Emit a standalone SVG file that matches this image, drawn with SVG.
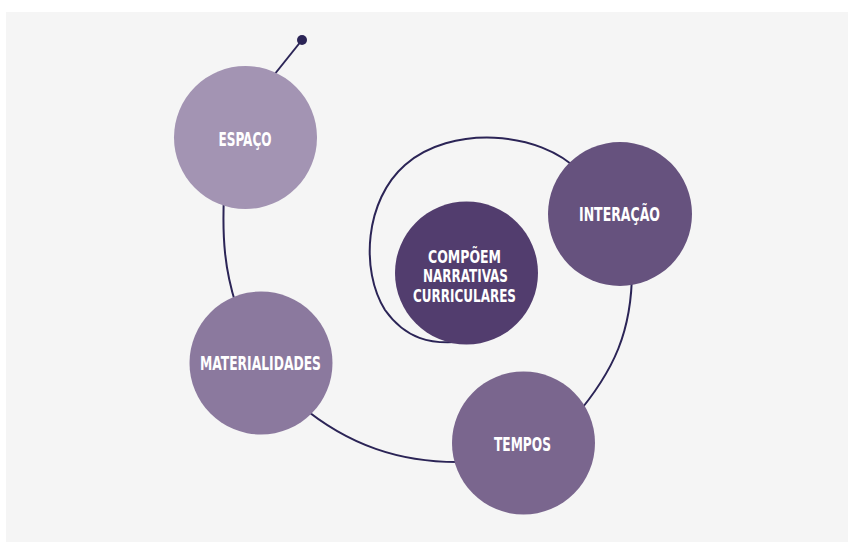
<svg xmlns="http://www.w3.org/2000/svg" width="848" height="542" viewBox="0 0 848 542">
<style>
.lbl{font-family:"DejaVu Sans Condensed","DejaVu Sans","Liberation Sans",sans-serif;font-stretch:condensed;font-weight:bold;font-size:19px;fill:#ffffff;text-anchor:middle}
.sm{font-size:17px}
.con{fill:none;stroke:#2b2456;stroke-width:2;stroke-linecap:round}
</style>
<rect x="0" y="0" width="848" height="542" fill="#ffffff"/>
<rect x="6" y="12" width="842" height="530" fill="#f5f5f5"/>
<g id="connectors">
<path class="con" d="M302,40 L262,90"/>
<circle cx="302" cy="40" r="5" fill="#2b2456"/>
<path class="con" d="M224,195 C222,240 225,270 236,305"/>
<path class="con" d="M300,405 C348,445 400,463 462,462"/>
<path class="con" d="M632,270 C632,330 615,370 574,418"/>
<path class="con" d="M580,172 C540,130 450,125 405,165 C365,200 360,270 385,310 C405,338 430,346 466,341"/>
</g>
<g id="espaco">
<circle cx="245.5" cy="137.5" r="71.5" fill="#a394b3"/>
<text class="lbl" x="245" y="146" textLength="53" lengthAdjust="spacingAndGlyphs">ESPAÇO</text>
</g>
<g id="materialidades">
<circle cx="261" cy="363" r="71.5" fill="#8b799e"/>
<text class="lbl" x="260.5" y="370" textLength="121" lengthAdjust="spacingAndGlyphs">MATERIALIDADES</text>
</g>
<g id="tempos">
<circle cx="523.5" cy="443" r="71.5" fill="#7a668e"/>
<text class="lbl" x="522.5" y="451" textLength="57" lengthAdjust="spacingAndGlyphs">TEMPOS</text>
</g>
<g id="interacao">
<circle cx="620" cy="214" r="72" fill="#66527e"/>
<text class="lbl" x="619.5" y="221" textLength="81" lengthAdjust="spacingAndGlyphs">INTERAÇÃO</text>
</g>
<g id="compoem">
<circle cx="466.5" cy="273" r="71.5" fill="#523d6e"/>
<text class="lbl sm" x="464.5" y="263" textLength="73" lengthAdjust="spacingAndGlyphs">COMPÕEM</text>
<text class="lbl sm" x="465.5" y="282" textLength="85" lengthAdjust="spacingAndGlyphs">NARRATIVAS</text>
<text class="lbl sm" x="464.5" y="302" textLength="103" lengthAdjust="spacingAndGlyphs">CURRICULARES</text>
</g>
</svg>
